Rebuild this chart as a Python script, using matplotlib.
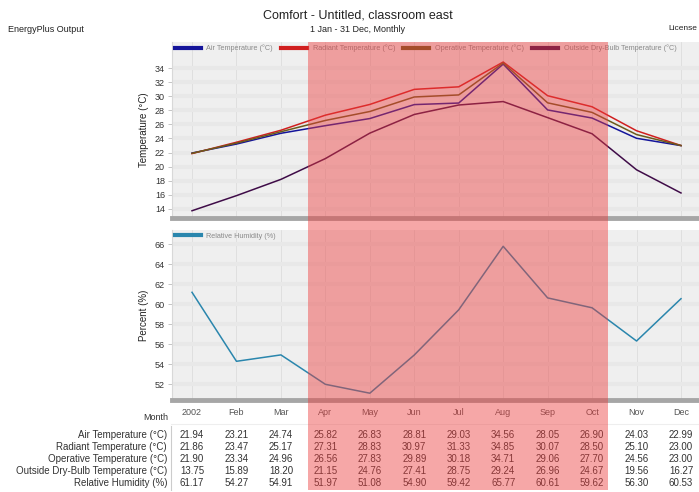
import matplotlib
matplotlib.use("Agg")
import matplotlib.pyplot as plt
import matplotlib.transforms as mtransforms
from matplotlib.patches import Rectangle
import numpy as np

plt.rcParams['font.family'] = ['Liberation Sans', 'DejaVu Sans']

months = ['2002', 'Feb', 'Mar', 'Apr', 'May', 'Jun', 'Jul', 'Aug', 'Sep', 'Oct', 'Nov', 'Dec']
air_temp = [21.94, 23.21, 24.74, 25.82, 26.83, 28.81, 29.03, 34.56, 28.05, 26.90, 24.03, 22.99]
radiant_temp = [21.86, 23.47, 25.17, 27.31, 28.83, 30.97, 31.33, 34.85, 30.07, 28.50, 25.10, 23.00]
operative_temp = [21.90, 23.34, 24.96, 26.56, 27.83, 29.89, 30.18, 34.71, 29.06, 27.70, 24.56, 23.00]
outside_temp = [13.75, 15.89, 18.20, 21.15, 24.76, 27.41, 28.75, 29.24, 26.96, 24.67, 19.56, 16.27]
rel_humidity = [61.17, 54.27, 54.91, 51.97, 51.08, 54.90, 59.42, 65.77, 60.61, 59.62, 56.30, 60.53]

temp_series = [
    ('Air Temperature (°C)', air_temp, '#14149a'),
    ('Radiant Temperature (°C)', radiant_temp, '#d01f1f'),
    ('Operative Temperature (°C)', operative_temp, '#6b5a1c'),
    ('Outside Dry-Bulb Temperature (°C)', outside_temp, '#3f0c48'),
]
hum_label = 'Relative Humidity (%)'
hum_color = '#2a86ad'
highlight_first, highlight_last = 'Apr', 'Oct'

W, H = 699, 492
fig = plt.figure(figsize=(W / 100, H / 100), dpi=100)

def fy(px):
    return 1 - px / H

x = np.arange(len(months))
xlim = (-0.45, 11.405)
panel_bg = '#efefef'

ax1 = fig.add_axes([172 / W, fy(218), (W - 172) / W, 176 / H])
ax2 = fig.add_axes([172 / W, fy(400), (W - 172) / W, 170 / H])

for ax in (ax1, ax2):
    ax.set_facecolor(panel_bg)
    ax.set_xlim(*xlim)
    ax.set_xticks(x)
    ax.grid(axis='x', color='#dddddd', lw=0.6)
    ax.grid(axis='y', color='#e8e8e8', lw=3)
    ax.set_axisbelow(True)
    for s in ('top', 'right'):
        ax.spines[s].set_visible(False)
    ax.spines['left'].set_color('#d8d8d8')
    ax.spines['left'].set_linewidth(0.8)
    ax.spines['bottom'].set_color('#a6a6a6')
    ax.spines['bottom'].set_linewidth(3.5)
    ax.tick_params(axis='y', labelsize=6.5, colors='#333333', length=3, width=0.6,
                   color='#bbbbbb', pad=2)
    ax.tick_params(axis='x', length=0)

for label, vals, col in temp_series:
    ax1.plot(x, vals, color=col, lw=1.1, label=label)
ax1.set_ylim(12.72, 37.69)
ax1.set_yticks(np.arange(14, 35, 2))
ax1.set_xticklabels([])
ax1.set_ylabel('Temperature (°C)', fontsize=7, color='#222222', labelpad=4)

ax2.plot(x, rel_humidity, color=hum_color, lw=1.1, label=hum_label)
ax2.set_ylim(50.4, 67.4)
ax2.set_yticks(np.arange(52, 67, 2))
ax2.set_xticklabels(months)
ax2.tick_params(axis='x', labelsize=6.5, colors='#555555', pad=6)
ax2.set_ylabel('Percent (%)', fontsize=7, color='#222222', labelpad=4)

for ax, nc in ((ax1, 4), (ax2, 1)):
    leg = ax.legend(loc='upper left', bbox_to_anchor=(0.0, 1.0), ncol=nc, frameon=False,
                    fontsize=5.2, handlelength=3.6, handletextpad=0.8, columnspacing=1.1,
                    borderaxespad=0.15, borderpad=0.2, labelcolor='#8a8a8a')
    for h in leg.get_lines():
        h.set_linewidth(3)

# titles
fig.text(358 / W, fy(15), 'Comfort - Untitled, classroom east', ha='center', va='center',
         fontsize=9, color='#222222')
fig.text(358 / W, fy(29), '1 Jan - 31 Dec, Monthly', ha='center', va='center',
         fontsize=6.5, color='#222222')
fig.text(8 / W, fy(29), 'EnergyPlus Output', ha='left', va='center', fontsize=6.5,
         color='#222222')
fig.text(697 / W, fy(29), 'License', ha='right', va='center', fontsize=6, color='#222222')

# data table
trans = mtransforms.blended_transform_factory(ax2.transData, fig.transFigure)
fig.text(168 / W, fy(418), 'Month', ha='right', va='center', fontsize=6.5, color='#333333')
rows = [(lbl, vals) for lbl, vals, _ in temp_series] + [(hum_label, rel_humidity)]
row_y = [435, 447, 459, 471, 483]
for (lbl, vals), ry in zip(rows, row_y):
    fig.text(167 / W, fy(ry), lbl, ha='right', va='center', fontsize=7, color='#333333')
    for xi, v in zip(x, vals):
        fig.text(xi, fy(ry), f'{v:.2f}', transform=trans, ha='center', va='center',
                 fontsize=7, color='#333333')
fig.add_artist(plt.Line2D([171 / W, 171 / W], [fy(426), fy(490)], color='#cccccc', lw=0.8))
fig.add_artist(plt.Line2D([171 / W, 1], [fy(424), fy(424)], color='#eeeeee', lw=0.8))

# highlight band
i0, i1 = months.index(highlight_first), months.index(highlight_last)
band = Rectangle((i0 - 0.39, fy(490)), (i1 + 0.35) - (i0 - 0.39), fy(42) - fy(490),
                 transform=mtransforms.blended_transform_factory(ax2.transData, fig.transFigure),
                 facecolor=(0.93, 0.24, 0.24), alpha=0.45, edgecolor='none', zorder=10)
fig.add_artist(band)

fig.savefig('out.png', dpi=100)
